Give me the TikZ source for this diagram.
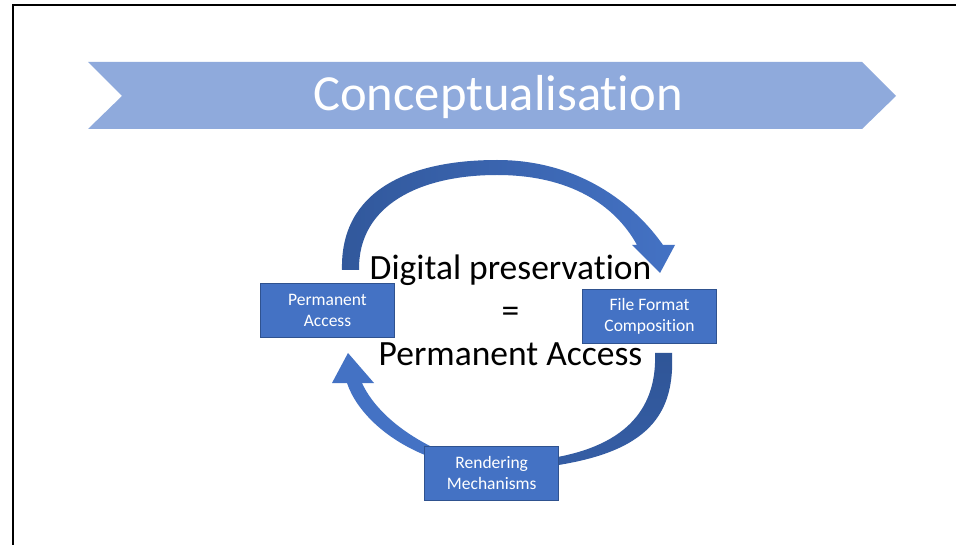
\documentclass[tikz,border=0pt]{standalone}
\usepackage{fontspec}
\setmainfont{Carlito}[Ligatures={NoCommon}]
\definecolor{accent}{HTML}{4472C4}
\definecolor{accentdark}{HTML}{2F5597}
\definecolor{bannerblue}{HTML}{8FAADC}
\definecolor{boxborder}{HTML}{2F528F}
\tikzset{
  procbox/.style={rectangle, fill=accent, draw=boxborder, line width=0.8pt,
    minimum width=134pt, minimum height=54pt, inner sep=0pt, align=center,
    text=white, font=\fontsize{17.5}{21}\selectfont},
  cyclearrow/.style={draw=none},
}
\begin{document}
\begin{tikzpicture}[x=1pt,y=-1pt]
\useasboundingbox (0,0) rectangle (956,545);
\fill[white] (0,0) rectangle (956,545);
% frame
\draw[line width=2pt] (13,546) -- (13,5) -- (957,5);
% banner chevron
\fill[bannerblue] (88,62) -- (862,62) -- (896,96) -- (862,129) -- (88,129) -- (122,96) -- cycle;
\node[anchor=base, text=white, inner sep=0pt, font=\fontsize{50.6}{60}\selectfont] (title) at (498,111) {Conceptualisation};
% top curved arrow
\shade[cyclearrow, left color=accentdark!90!accent, right color=accent]
  (342,270) .. controls (340,190) and (410,160) .. (497,160)
  .. controls (580,160) and (635,205) .. (663,245)
  -- (675,245) -- (660,273) -- (632,245) -- (637,245)
  .. controls (615,205) and (570,175) .. (497,175)
  .. controls (420,175) and (358,205) .. (359,270) -- cycle;
% right curved arrow
\shade[cyclearrow, top color=accentdark, bottom color=accentdark!70!accent]
  (655,353) -- (672,353)
  .. controls (675,415) and (648,452) .. (552,466)
  -- (552,458)
  .. controls (630,445) and (657,405) .. (655,353) -- cycle;
% left curved arrow
\fill[accent]
  (430,457) .. controls (385,440) and (356,410) .. (347,383)
  -- (332,383) -- (348,353) -- (374,383) -- (362,383)
  .. controls (372,405) and (395,428) .. (430,446) -- cycle;
% boxes
\node[procbox] (pa) at (327.5,310.8) {Permanent\\Access};
\node[procbox] (ffc) at (649.5,316.8) {File Format\\Composition};
\node[procbox] (rm) at (491.7,473) {Rendering\\Mechanisms};
% centre statement
\node[align=center, inner sep=0pt, font=\fontsize{35.5}{43.3}\selectfont] (eq) at (510.5,310.5)
  {Digital preservation\\=\\Permanent Access};
\end{tikzpicture}
\end{document}
